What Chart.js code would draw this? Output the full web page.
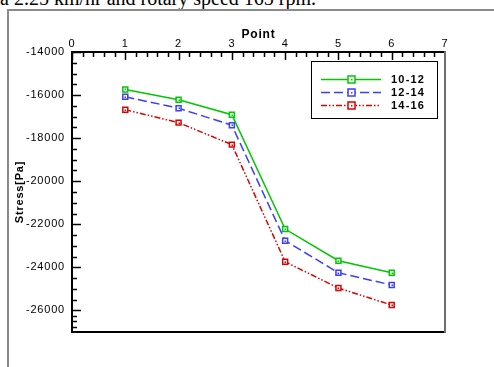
<!DOCTYPE html>
<html>
<head>
<meta charset="utf-8">
<script src="https://cdn.jsdelivr.net/npm/chart.js@4"></script>
<style>
  html, body { margin: 0; padding: 0; background: #fff; overflow: hidden; }
  #page { position: relative; width: 494px; height: 367px; overflow: hidden; }
  #caption { position: absolute; left: 0; top: -12px; font: 20px 'Liberation Serif', serif; line-height: 20px; white-space: nowrap; color: #000; }
  #frame { position: absolute; left: 7px; top: 9px; width: 600px; height: 400px; border-left: 2px solid #8a8a8a; border-top: 2px solid #8a8a8a; }
  #UAENA_Chart { position: absolute; left: 0; top: 0; }
</style>
</head>
<body>
<div id="page">
  <div id="caption">a 2.25 km/hr and rotary speed 165 rpm.</div>
  <div id="frame"></div>
  <canvas id="UAENA_Chart" width="494" height="367"></canvas>
</div>
<script>
/************ 데이터 ************/
const points = [1, 2, 3, 4, 5, 6];
const xTicks = [0, 1, 2, 3, 4, 5, 6, 7];
const yTicks = [-14000, -16000, -18000, -20000, -22000, -24000, -26000];
const seriesNames = ['10-12', '12-14', '14-16'];
const stress1012 = [-15740, -16220, -16910, -22220, -23690, -24250];
const stress1214 = [-16080, -16610, -17400, -22760, -24250, -24820];
const stress1416 = [-16680, -17280, -18300, -23740, -24960, -25750];

const colors = ['rgb(0, 200, 0)', 'rgb(60, 60, 255)', 'rgb(220, 0, 0)'];
const dashes = [[], [9, 4], [6, 2, 1.5, 2, 1.5, 2]];

const toXY = vals => points.map((p, i) => ({ x: p, y: vals[i] }));

const datasets = [stress1012, stress1214, stress1416].map((vals, i) => ({
  label: seriesNames[i],
  data: toXY(vals),
  borderColor: colors[i],
  borderWidth: 1.5,
  borderDash: dashes[i],
  pointStyle: 'rect',
  pointRadius: 3.5,
  pointBorderWidth: 1.5,
  pointBorderColor: colors[i],
  pointBackgroundColor: '#fff',
  fill: false,
  tension: 0,
}));

const FONT = "'Liberation Sans', Arial, sans-serif";

// 글자 간격
const spacingPlugin = {
  id: 'spacing',
  beforeDraw(chart) { chart.ctx.letterSpacing = '0.8px'; },
};

// 안쪽 눈금 + 오른쪽/아래 테두리 + 점 중앙
const framePlugin = {
  id: 'frameTicks',
  afterDraw(chart) {
    const { ctx, chartArea: a, scales: { x, y } } = chart;
    ctx.save();
    ctx.strokeStyle = '#000';
    ctx.lineWidth = 1.5;
    ctx.beginPath();
    for (let i = 0; i < xTicks.length - 1; i++) {
      const step = (xTicks[i + 1] - xTicks[i]) / 5;
      for (let k = 0; k < 5; k++) {
        const px = Math.round(x.getPixelForValue(xTicks[i] + k * step)) + 0.5;
        ctx.moveTo(px, a.top);
        ctx.lineTo(px, a.top + (k === 0 ? 8 : 5));
      }
    }
    const yAll = yTicks.concat([y.min]);
    for (let i = 0; i < yAll.length - 1; i++) {
      const step = (yAll[i + 1] - yAll[i]) / 4;
      for (let k = 0; k < 4; k++) {
        const py = Math.round(y.getPixelForValue(yAll[i] + k * step)) + 0.5;
        ctx.moveTo(a.left, py);
        ctx.lineTo(a.left + (k === 0 ? 9 : 5), py);
      }
    }
    ctx.stroke();
    ctx.lineWidth = 2;
    ctx.beginPath();
    ctx.moveTo(a.left - 1, a.bottom);
    ctx.lineTo(a.right, a.bottom);
    ctx.stroke();
    ctx.strokeStyle = '#6e6e6e';
    ctx.beginPath();
    ctx.moveTo(a.right, a.top - 1);
    ctx.lineTo(a.right, a.bottom + 1);
    ctx.stroke();

    chart.data.datasets.forEach((ds, i) => {
      ctx.fillStyle = ds.borderColor;
      chart.getDatasetMeta(i).data.forEach(pt => {
        ctx.fillRect(Math.round(pt.x) - 0.5, Math.round(pt.y) - 0.5, 1.5, 1.5);
      });
    });
    ctx.restore();
  },
};

// 범례 상자
const legendBox = {
  id: 'legendBox',
  afterDraw(chart) {
    const { ctx } = chart;
    const bx = 311, by = 61, bw = 126, bh = 57;
    const rows = [79, 92, 105];
    ctx.save();
    ctx.fillStyle = '#fff';
    ctx.fillRect(bx, by, bw, bh);
    ctx.strokeStyle = '#000';
    ctx.lineWidth = 1;
    ctx.strokeRect(bx + 0.5, by + 0.5, bw, bh);
    chart.data.datasets.forEach((ds, i) => {
      const yy = rows[i] + 0.5;
      ctx.strokeStyle = ds.borderColor;
      ctx.lineWidth = 1.5;
      ctx.setLineDash(ds.borderDash);
      ctx.beginPath();
      ctx.moveTo(321, yy);
      ctx.lineTo(381, yy);
      ctx.stroke();
      ctx.setLineDash([]);
      ctx.fillStyle = '#fff';
      ctx.fillRect(348, yy - 3.5, 7, 7);
      ctx.strokeRect(348, yy - 3.5, 7, 7);
      ctx.fillStyle = ds.borderColor;
      ctx.fillRect(351, yy - 0.5, 1.5, 1.5);
      ctx.fillStyle = '#000';
      ctx.font = 'bold 11px ' + FONT;
      ctx.letterSpacing = '1.2px';
      ctx.textBaseline = 'middle';
      ctx.textAlign = 'left';
      ctx.fillText(ds.label, 391, yy);
    });
    ctx.restore();
  },
};

const config = {
  type: 'line',
  data: { datasets: datasets },
  options: {
    responsive: false,
    animation: false,
    layout: { padding: { left: 0, right: 49, top: 0, bottom: 35 } },
    plugins: {
      legend: { display: false },
      tooltip: { enabled: false },
    },
    scales: {
      x: {
        type: 'linear',
        position: 'top',
        min: 0,
        max: 7,
        afterBuildTicks: s => { s.ticks = xTicks.map(v => ({ value: v })); },
        afterFit: s => { s.height = 52; },
        grid: { drawOnChartArea: false, drawTicks: false },
        border: { display: true, color: '#000', width: 2 },
        ticks: {
          color: '#000',
          font: { family: FONT, size: 11 },
          padding: 1,
          maxRotation: 0,
          autoSkip: false,
          callback: v => String(v),
        },
        title: {
          display: true,
          text: 'Point',
          color: '#000',
          font: { family: FONT, size: 12, weight: 'bold' },
          padding: { top: 27, bottom: 0 },
        },
      },
      y: {
        min: -27000,
        max: -14000,
        afterBuildTicks: s => { s.ticks = yTicks.map(v => ({ value: v })); },
        afterFit: s => { s.width = 72; },
        grid: { drawOnChartArea: false, drawTicks: false },
        border: { display: true, color: '#000', width: 2 },
        ticks: {
          color: '#000',
          font: { family: FONT, size: 11 },
          padding: 7,
          autoSkip: false,
          callback: v => String(v),
        },
        title: {
          display: true,
          text: 'Stress[Pa]',
          color: '#000',
          font: { family: FONT, size: 11, weight: 'bold' },
          padding: { top: 13, bottom: 0 },
        },
      },
    },
  },
  plugins: [spacingPlugin, framePlugin, legendBox],
};

new Chart(document.getElementById('UAENA_Chart'), config);
</script>
</body>
</html>
